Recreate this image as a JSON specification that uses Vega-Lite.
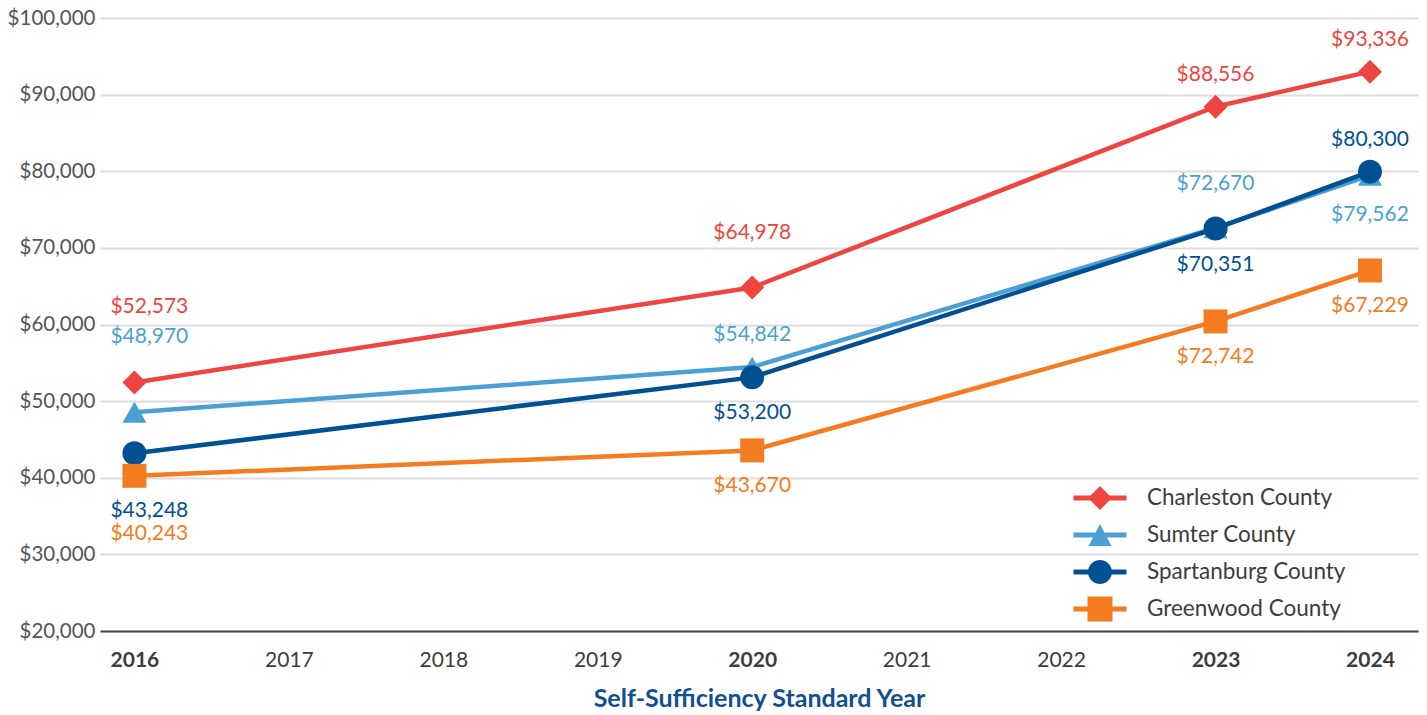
{
  "$schema": "https://vega.github.io/schema/vega-lite/v6.json",
  "width": 1318,
  "height": 613,
  "autosize": {"type": "none"},
  "padding": {"left": 100, "top": 18, "right": 9, "bottom": 84},
  "config": {
    "view": {"stroke": null},
    "font": "Lato",
    "text": {"font": "Lato"}
  },
  "data": {
    "values": [
      {"county": "Charleston County", "year": 2016, "value": 52440, "label": "$52,573"},
      {"county": "Charleston County", "year": 2020, "value": 64830, "label": "$64,978"},
      {"county": "Charleston County", "year": 2023, "value": 88430, "label": "$88,556"},
      {"county": "Charleston County", "year": 2024, "value": 93000, "label": "$93,336"},
      {"county": "Sumter County", "year": 2016, "value": 48550, "label": "$48,970"},
      {"county": "Sumter County", "year": 2020, "value": 54450, "label": "$54,842"},
      {"county": "Sumter County", "year": 2023, "value": 72600, "label": "$72,670"},
      {"county": "Sumter County", "year": 2024, "value": 79450, "label": "$79,562"},
      {"county": "Spartanburg County", "year": 2016, "value": 43190, "label": "$43,248"},
      {"county": "Spartanburg County", "year": 2020, "value": 53100, "label": "$53,200"},
      {"county": "Spartanburg County", "year": 2023, "value": 72520, "label": "$70,351"},
      {"county": "Spartanburg County", "year": 2024, "value": 79950, "label": "$80,300"},
      {"county": "Greenwood County", "year": 2016, "value": 40250, "label": "$40,243"},
      {"county": "Greenwood County", "year": 2020, "value": 43570, "label": "$43,670"},
      {"county": "Greenwood County", "year": 2023, "value": 60400, "label": "$72,742"},
      {"county": "Greenwood County", "year": 2024, "value": 67050, "label": "$67,229"}
    ]
  },
  "encoding": {
    "x": {
      "field": "year", "type": "quantitative",
      "scale": {"domain": [2015.777, 2024.311], "nice": false, "zero": false},
      "axis": {
        "values": [2016, 2017, 2018, 2019, 2020, 2021, 2022, 2023, 2024],
        "format": "d",
        "grid": false,
        "ticks": false,
        "domainColor": "#444444",
        "domainWidth": 2,
        "labelFont": "Lato",
        "labelFontSize": 21,
        "labelColor": "#3c3c3c",
        "labelPadding": 18,
        "labelFontWeight": {"condition": {"test": "indexof([2016, 2020, 2023, 2024], datum.value) >= 0", "value": "bold"}, "value": "normal"},
        "title": "Self-Sufficiency Standard Year",
        "titleFont": "Lato",
        "titleFontSize": 25,
        "titleFontWeight": "bold",
        "titleColor": "#10508F",
        "titlePadding": 16
      }
    },
    "y": {
      "field": "value", "type": "quantitative",
      "scale": {"domain": [20000, 100000], "nice": false, "zero": false},
      "axis": {
        "values": [20000, 30000, 40000, 50000, 60000, 70000, 80000, 90000, 100000],
        "format": "$,.0f",
        "domain": false,
        "ticks": false,
        "gridColor": "#DDDDDD",
        "gridWidth": 2,
        "labelFont": "Lato",
        "labelFontSize": 20.5,
        "labelColor": "#555555",
        "labelPadding": 5,
        "title": null
      }
    }
  },
  "layer": [
    {
      "mark": {"type": "line", "strokeWidth": 4.5},
      "encoding": {
        "color": {"field": "county", "type": "nominal",
          "scale": {"domain": ["Charleston County", "Sumter County", "Spartanburg County", "Greenwood County"], "range": ["#EF4540", "#4B9FD4", "#005092", "#F47B20"]},
          "legend": null}
      }
    },
    {
      "mark": {"type": "point", "filled": true, "opacity": 1, "size": 576},
      "encoding": {
        "color": {"field": "county", "type": "nominal",
          "scale": {"domain": ["Charleston County", "Sumter County", "Spartanburg County", "Greenwood County"], "range": ["#EF4540", "#4B9FD4", "#005092", "#F47B20"]},
          "legend": null},
        "shape": {"field": "county", "type": "nominal",
          "scale": {"domain": ["Charleston County", "Sumter County", "Spartanburg County", "Greenwood County"], "range": ["diamond", "triangle-up", "circle", "square"]},
          "legend": null}
      }
    },
    {
      "transform": [{"filter": "indexof(['Charleston County|2023', 'Charleston County|2024', 'Spartanburg County|2024', 'Sumter County|2020'], datum.county + '|' + datum.year) >= 0"}],
      "mark": {"type": "text", "fontSize": 21, "baseline": "middle", "align": "center", "dy": -32},
      "encoding": {
        "text": {"field": "label"},
        "color": {"field": "county", "type": "nominal",
          "scale": {"domain": ["Charleston County", "Sumter County", "Spartanburg County", "Greenwood County"], "range": ["#EF4540", "#4B9FD4", "#005092", "#F47B20"]},
          "legend": null}
      }
    },
    {
      "transform": [{"filter": "datum.county == 'Sumter County' && datum.year == 2023"}],
      "mark": {"type": "text", "fontSize": 21, "baseline": "middle", "align": "center", "dy": -44},
      "encoding": {
        "text": {"field": "label"},
        "color": {"field": "county", "type": "nominal",
          "scale": {"domain": ["Charleston County", "Sumter County", "Spartanburg County", "Greenwood County"], "range": ["#EF4540", "#4B9FD4", "#005092", "#F47B20"]},
          "legend": null}
      }
    },
    {
      "transform": [{"filter": "datum.county == 'Charleston County' && datum.year == 2020"}],
      "mark": {"type": "text", "fontSize": 21, "baseline": "middle", "align": "center", "dy": -54},
      "encoding": {
        "text": {"field": "label"},
        "color": {"field": "county", "type": "nominal",
          "scale": {"domain": ["Charleston County", "Sumter County", "Spartanburg County", "Greenwood County"], "range": ["#EF4540", "#4B9FD4", "#005092", "#F47B20"]},
          "legend": null}
      }
    },
    {
      "transform": [{"filter": "datum.year == 2016 && (datum.county == 'Charleston County' || datum.county == 'Sumter County')"}],
      "mark": {"type": "text", "fontSize": 21, "baseline": "middle", "align": "left", "dx": -24, "dy": -75},
      "encoding": {
        "text": {"field": "label"},
        "color": {"field": "county", "type": "nominal",
          "scale": {"domain": ["Charleston County", "Sumter County", "Spartanburg County", "Greenwood County"], "range": ["#EF4540", "#4B9FD4", "#005092", "#F47B20"]},
          "legend": null}
      }
    },
    {
      "transform": [{"filter": "indexof(['Spartanburg County|2020', 'Greenwood County|2020', 'Spartanburg County|2023', 'Greenwood County|2023', 'Greenwood County|2024'], datum.county + '|' + datum.year) >= 0"}],
      "mark": {"type": "text", "fontSize": 21, "baseline": "middle", "align": "center", "dy": 36},
      "encoding": {
        "text": {"field": "label"},
        "color": {"field": "county", "type": "nominal",
          "scale": {"domain": ["Charleston County", "Sumter County", "Spartanburg County", "Greenwood County"], "range": ["#EF4540", "#4B9FD4", "#005092", "#F47B20"]},
          "legend": null}
      }
    },
    {
      "transform": [{"filter": "datum.county == 'Sumter County' && datum.year == 2024"}],
      "mark": {"type": "text", "fontSize": 21, "baseline": "middle", "align": "center", "dy": 40},
      "encoding": {
        "text": {"field": "label"},
        "color": {"field": "county", "type": "nominal",
          "scale": {"domain": ["Charleston County", "Sumter County", "Spartanburg County", "Greenwood County"], "range": ["#EF4540", "#4B9FD4", "#005092", "#F47B20"]},
          "legend": null}
      }
    },
    {
      "transform": [{"filter": "datum.year == 2016 && (datum.county == 'Spartanburg County' || datum.county == 'Greenwood County')"}],
      "mark": {"type": "text", "fontSize": 21, "baseline": "middle", "align": "left", "dx": -24, "dy": 58},
      "encoding": {
        "text": {"field": "label"},
        "color": {"field": "county", "type": "nominal",
          "scale": {"domain": ["Charleston County", "Sumter County", "Spartanburg County", "Greenwood County"], "range": ["#EF4540", "#4B9FD4", "#005092", "#F47B20"]},
          "legend": null}
      }
    },
    {
      "transform": [{"filter": "false"}],
      "mark": {"type": "point", "filled": true, "opacity": 1, "size": 676},
      "encoding": {
        "color": {"field": "county", "type": "nominal",
          "scale": {"domain": ["Charleston County", "Sumter County", "Spartanburg County", "Greenwood County"], "range": ["#EF4540", "#4B9FD4", "#005092", "#F47B20"]},
          "legend": {
            "title": null, "orient": "none", "legendX": 987, "legendY": 467,
            "padding": 0, "labelFont": "Lato", "labelFontSize": 22.5, "labelColor": "#3c3c3c",
            "labelOffset": 34, "rowPadding": 12, "symbolSize": 676, "symbolStrokeWidth": 0, "labelLimit": 400
          }},
        "shape": {"field": "county", "type": "nominal",
          "scale": {"domain": ["Charleston County", "Sumter County", "Spartanburg County", "Greenwood County"],
            "range": [
              "M-2.04,-0.19H-0.73L0,-0.92L0.73,-0.19H2.04V0.19H0.73L0,0.92L-0.73,0.19H-2.04Z",
              "M-2.04,-0.19H-0.34L0,-0.85L0.34,-0.19H2.04V0.19H0.54L0.88,0.85H-0.88L-0.54,0.19H-2.04Z",
              "M-2.04,-0.19H-0.9A0.92,0.92 0 0 1 0.9,-0.19H2.04V0.19H0.9A0.92,0.92 0 0 1 -0.9,0.19H-2.04Z",
              "M-2.04,-0.19H-0.96V-0.96H0.96V-0.19H2.04V0.19H0.96V0.96H-0.96V0.19H-2.04Z"
            ]},
          "legend": {
            "title": null, "orient": "none", "legendX": 987, "legendY": 467,
            "padding": 0, "labelFont": "Lato", "labelFontSize": 22.5, "labelColor": "#3c3c3c",
            "labelOffset": 34, "rowPadding": 12, "symbolSize": 676, "symbolStrokeWidth": 0, "labelLimit": 400
          }}
      }
    }
  ],
  "resolve": {"scale": {"color": "independent", "shape": "independent"}}
}
